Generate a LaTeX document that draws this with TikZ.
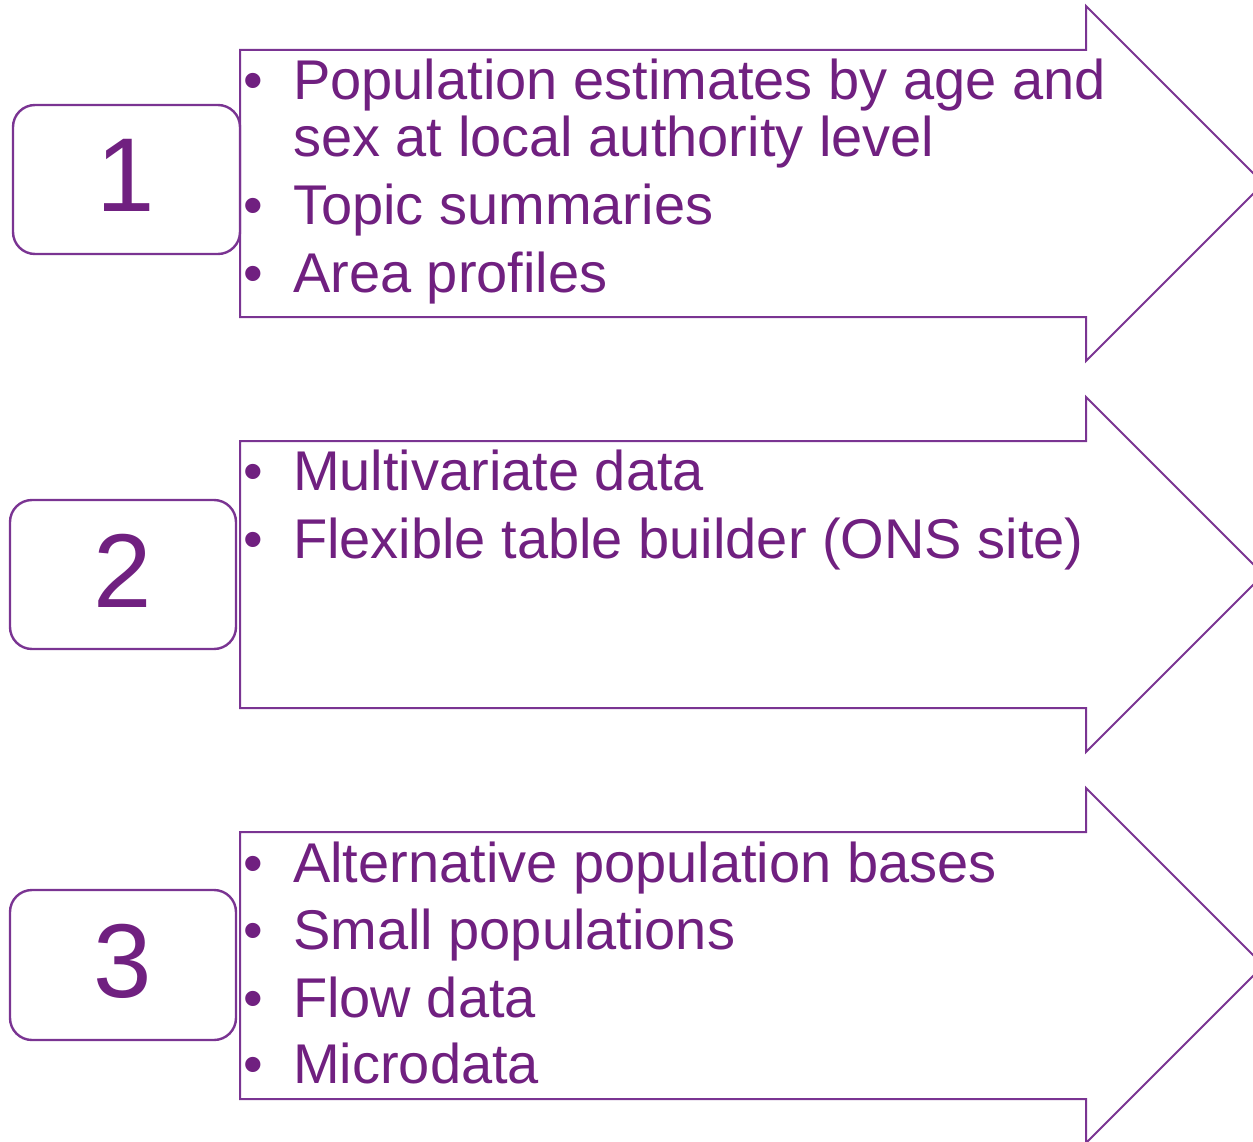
\documentclass[tikz,border=0pt]{standalone}
\usepackage{fontspec}
\setmainfont{Liberation Sans}
\definecolor{txtpurple}{RGB}{112,32,128}
\definecolor{linepurple}{RGB}{122,52,146}
\begin{document}
\begin{tikzpicture}[x=1pt,y=-1pt,
  arrowshape/.style={draw=linepurple,line width=2pt,line join=miter},
  numbox/.style={draw=linepurple,line width=2.4pt,rounded corners=22pt},
  numtext/.style={text=txtpurple,inner sep=0pt,anchor=base,font=\fontsize{105}{110}\selectfont},
  itemtext/.style={text=txtpurple,inner sep=0pt,anchor=base west,font=\fontsize{56}{60}\selectfont},
  bullettext/.style={text=txtpurple,inner sep=0pt,anchor=base,font=\fontsize{56}{60}\selectfont}]
\useasboundingbox (0,0) rectangle (1253,1142);
\clip (0,0) rectangle (1253,1142);
% arrows
\foreach \dy in {0,391,782}{
  \draw[arrowshape] (240,50+\dy) -- (1086,50+\dy) -- (1086,6+\dy) -- (1263.5,183.5+\dy)
    -- (1086,361+\dy) -- (1086,317+\dy) -- (240,317+\dy) -- cycle;
}
% number boxes
\draw[numbox] (13,105) rectangle (240,254);
\draw[numbox] (10,500) rectangle (236,649);
\draw[numbox] (10,890) rectangle (236,1040);
\node[numtext] (n1) at (126,212) {1};
\node[numtext] (n2) at (123,607) {2};
\node[numtext] (n3) at (123,997) {3};
% arrow 1 items
\node[bullettext] (b1a) at (253,100) {•};
\node[itemtext] (t1a) at (293,100) {Population estimates by age and};
\node[itemtext] (t1b) at (293,157) {sex at local authority level};
\node[bullettext] (b1b) at (253,225) {•};
\node[itemtext] (t1c) at (293,225) {Topic summaries};
\node[bullettext] (b1c) at (253,292) {•};
\node[itemtext] (t1d) at (293,292) {Area profiles};
% arrow 2 items
\node[bullettext] (b2a) at (253,490) {•};
\node[itemtext] (t2a) at (293,490) {Multivariate data};
\node[bullettext] (b2b) at (253,558) {•};
\node[itemtext] (t2b) at (293,558) {Flexible table builder (ONS site)};
% arrow 3 items
\node[bullettext] (b3a) at (253,882) {•};
\node[itemtext] (t3a) at (293,882) {Alternative population bases};
\node[bullettext] (b3b) at (253,949) {•};
\node[itemtext] (t3b) at (293,949) {Small populations};
\node[bullettext] (b3c) at (253,1017) {•};
\node[itemtext] (t3c) at (293,1017) {Flow data};
\node[bullettext] (b3d) at (253,1083) {•};
\node[itemtext] (t3d) at (293,1083) {Microdata};
\end{tikzpicture}
\end{document}
